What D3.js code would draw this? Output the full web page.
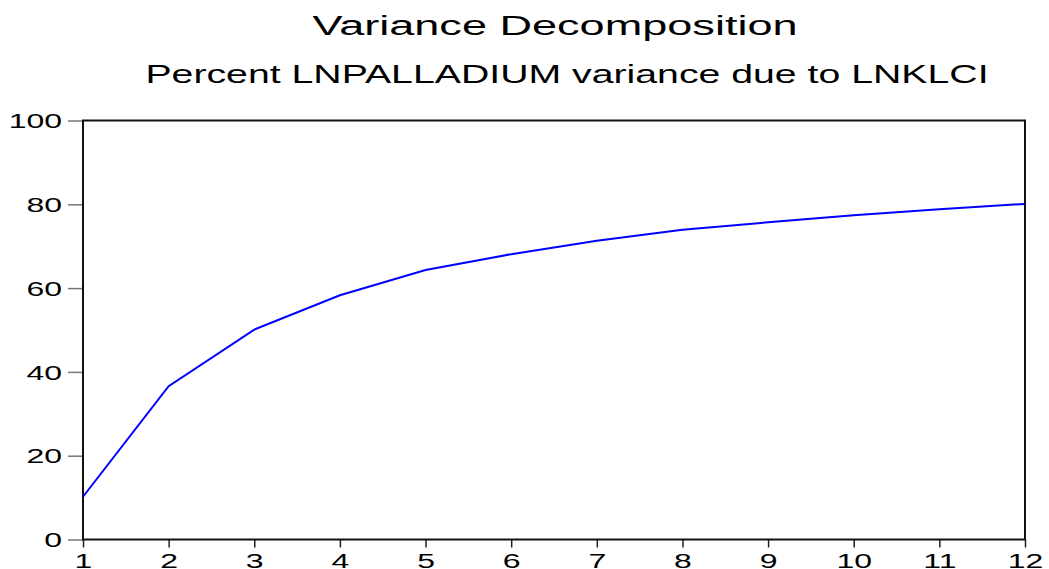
<!DOCTYPE html>
<html lang="en">
<head>
    <meta charset="UTF-8">
    <title>Variance Decomposition</title>
    <script src="https://cdn.jsdelivr.net/npm/d3@7"></script>
    <style>
        body { margin: 0; background: #fff; }
        text { font-family: "Liberation Sans", Arial, sans-serif; fill: #000; }
    </style>
</head>
<body>
<script>
    // periods on x axis
    var periods = [1, 2, 3, 4, 5, 6, 7, 8, 9, 10, 11, 12];
    // percent of LNPALLADIUM variance due to LNKLCI
    var percentValues = [10.2, 36.6, 50.1, 58.3, 64.3, 68.1, 71.3, 73.9, 75.7, 77.4, 78.8, 80.1];
    var yTicks = [0, 20, 40, 60, 80, 100];
    var titleText = "Variance Decomposition";
    var subtitleText = "Percent LNPALLADIUM variance due to LNKLCI";

    var width = 1049, height = 569;
    var margin = {top: 120.5, right: 24, bottom: 29.5, left: 83};
    var stretch = 1.6;   // the original's lettering is wide, stretch it sideways

    var svg = d3.select("body").append("svg")
        .attr("width", width)
        .attr("height", height);

    var x = d3.scaleLinear()
        .domain([1, 12])
        .range([margin.left, width - margin.right]);

    var y = d3.scaleLinear()
        .domain([0, 100])
        .range([height - margin.bottom, margin.top]);

    // titles
    svg.append("text")
        .attr("transform", "translate(555,35) scale(1.61,1)")
        .attr("text-anchor", "middle")
        .attr("font-size", "28px")
        .text(titleText);

    svg.append("text")
        .attr("transform", "translate(567,83) scale(1.57,1)")
        .attr("text-anchor", "middle")
        .attr("font-size", "25px")
        .text(subtitleText);

    // y axis (ticks outside, grey)
    var yAxis = svg.append("g")
        .attr("transform", "translate(" + margin.left + ",0)")
        .call(d3.axisLeft(y).tickValues(yTicks).tickSize(15).tickPadding(6));
    yAxis.select(".domain").remove();
    yAxis.selectAll("line").attr("stroke", "#777").attr("stroke-width", 1.5);
    yAxis.selectAll("text")
        .attr("font-size", "20px")
        .attr("dy", "0.36em")
        .attr("x", -21 / stretch)
        .attr("transform", "scale(" + stretch + ",1)");

    // x axis
    var xAxis = svg.append("g")
        .attr("transform", "translate(0," + (height - margin.bottom) + ")")
        .call(d3.axisBottom(x).tickValues(periods).tickFormat(d3.format("d")).tickSize(8).tickPadding(5));
    xAxis.select(".domain").remove();
    xAxis.selectAll("line").attr("stroke", "#222").attr("stroke-width", 1.5);
    xAxis.selectAll("text")
        .attr("font-size", "20px")
        .attr("y", 0)
        .attr("dy", 0)
        .attr("transform", "translate(0,28) scale(" + stretch + ",1)");

    // frame
    svg.append("rect")
        .attr("x", x(1))
        .attr("y", y(100))
        .attr("width", x(12) - x(1))
        .attr("height", y(0) - y(100))
        .attr("fill", "none")
        .attr("stroke", "#111")
        .attr("stroke-width", 2);

    // the line
    var line = d3.line()
        .x(function (d, i) { return x(periods[i]); })
        .y(function (d) { return y(d); });

    svg.append("path")
        .datum(percentValues)
        .attr("d", line)
        .attr("fill", "none")
        .attr("stroke", "#0000ff")
        .attr("stroke-width", 2);
</script>
</body>
</html>
